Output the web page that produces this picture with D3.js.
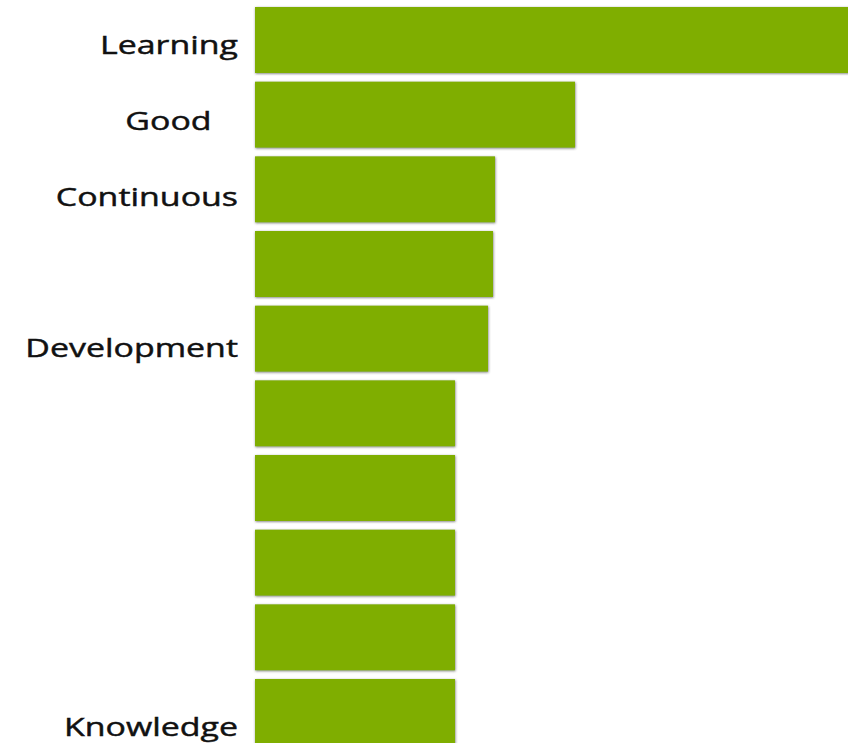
<!DOCTYPE html>
<html>
<head>
<meta charset="utf-8">
<script src="https://cdn.jsdelivr.net/npm/d3@7"></script>
<style>
  html, body { margin: 0; padding: 0; background: #fff; overflow: hidden; }
</style>
</head>
<body>
<div id="canvas"></div>
<script>
"use strict";

// Canvas dimensions
let svgWidth = 848;
let svgHeight = 743;

// Data (values are relative bar lengths)
let labels = ["Learning", "Good\u00a0\u00a0\u00a0", "Continuous", "", "Development", "", "", "", "", "Knowledge"];
let values = [30, 16, 12, 11.9, 11.65, 10, 10, 10, 10, 10];

let dataset = values.map((v, i) => ({ index: i, label: labels[i], value: v }));

let svg = d3.select("#canvas")
    .append("svg")
    .attr("width", svgWidth)
    .attr("height", svgHeight);

// Soft grey shadow round each bar
let defs = svg.append("defs");
let shadow = defs.append("filter")
    .attr("id", "bar-shadow")
    .attr("x", "-5%")
    .attr("y", "-10%")
    .attr("width", "110%")
    .attr("height", "120%");
shadow.append("feDropShadow")
    .attr("dx", 0.5)
    .attr("dy", 0.8)
    .attr("stdDeviation", 1.2)
    .attr("flood-color", "#444")
    .attr("flood-opacity", 0.7);

// Scales
let xScale = d3.scaleLinear()
    .domain([0, 30])
    .range([255, 855]);

let yScale = d3.scaleBand()
    .domain(d3.range(values.length))
    .range([2.67, 749.33])
    .paddingInner(0.116)
    .paddingOuter(0.058);

// labels sit on their own slightly wider pitch (baseline positions)
let labelScale = d3.scalePoint()
    .domain(d3.range(values.length))
    .range([54, 736]);

// Bars
svg.selectAll("rect.bar")
    .data(dataset)
    .join("rect")
    .attr("class", "bar")
    .attr("x", xScale(0))
    .attr("y", d => yScale(d.index))
    .attr("width", d => xScale(d.value) - xScale(0))
    .attr("height", yScale.bandwidth())
    .attr("fill", "#7fae00")
    .attr("filter", "url(#bar-shadow)");

// Category labels
svg.selectAll("text.label")
    .data(dataset.filter(d => d.label !== ""))
    .join("text")
    .attr("class", "label")
    .attr("transform", d => `translate(238,${labelScale(d.index)}) scale(1.33,1)`)
    .attr("text-anchor", "end")
    .style("font-family", "'Open Sans', sans-serif")
    .style("font-size", "25.5px")
    .style("fill", "#111")
    .style("stroke", "#111")
    .style("stroke-width", 0.45)
    .text(d => d.label);
</script>
</body>
</html>
